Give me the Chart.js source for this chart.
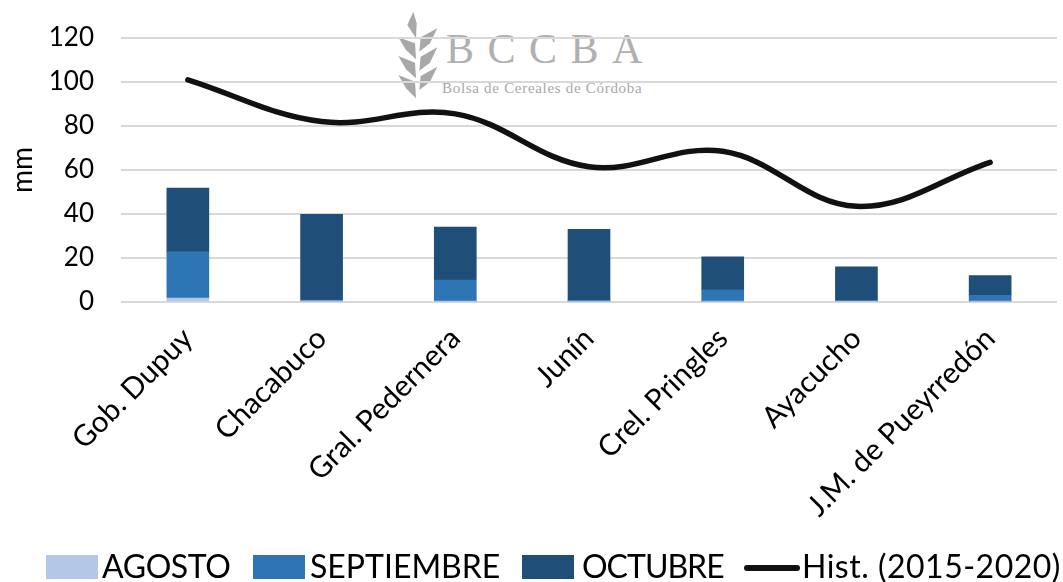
<!DOCTYPE html>
<html>
<head>
<meta charset="utf-8">
<script src="https://cdn.jsdelivr.net/npm/chart.js@4"></script>
<style>
  html, body { margin: 0; background: #fff; }
  #wrap { position: relative; width: 1063px; height: 582px; overflow: hidden; font-family: Lato, sans-serif; }
  #chart { position: absolute; left: 0; top: 0; }
  #logo { position: absolute; left: 380px; top: 0; width: 280px; height: 110px; }
  #logo .big { position: absolute; left: 66px; top: 25px; font: 42px "Liberation Serif", serif; letter-spacing: 13.5px; color: #b0b0b0; white-space: nowrap; }
  #logo .small { position: absolute; left: 62px; top: 80px; font: 15px "Liberation Serif", serif; letter-spacing: 0.7px; color: #a8a8a8; white-space: nowrap; }
  #legend { position: absolute; left: 0; top: 546px; width: 1063px; height: 36px; font-size: 32px; color: #000; }
  #legend span { position: absolute; top: 0; line-height: 40px; white-space: nowrap; }
  #legend i { position: absolute; display: block; }
</style>
</head>
<body>
<div id="wrap">
  <div id="logo">
    <svg width="280" height="110" viewBox="0 0 840 330">
      <g fill="#a8a8a8">
        <path d="M100 35 L82 75 L108 115 L110 70 Z"/>
        <path d="M55 112 L105 130 L108 178 L78 150 Z"/>
        <path d="M55 168 L105 188 L108 235 L78 208 Z"/>
        <path d="M55 225 L105 245 L108 295 L78 265 Z"/>
        <path d="M172 85 L122 112 L118 155 L150 130 Z"/>
        <path d="M172 142 L122 170 L118 212 L150 188 Z"/>
        <path d="M172 200 L122 228 L118 270 L150 245 Z"/>
      </g>
    </svg>
    <div class="big">BCCBA</div>
    <div class="small">Bolsa de Cereales de Córdoba</div>
  </div>
  <canvas id="chart" width="1063" height="582"></canvas>
  <div id="legend"></div>
</div>
<script>
const categories = ['Gob. Dupuy', 'Chacabuco', 'Gral. Pedernera', 'Junín', 'Crel. Pringles', 'Ayacucho', 'J.M. de Pueyrredón'];
const agosto = [1.8, 0.5, 0.2, 0.3, 0.3, 0.2, 0.3];
const septiembre = [21, 0.4, 9.8, 0.5, 5.2, 0.3, 2.7];
const octubre = [29, 39, 24, 32.2, 15, 15.5, 9];
const historico = [101, 82, 85.5, 61.5, 68.5, 43.5, 63.5];
const yTicks = [0, 20, 40, 60, 80, 100, 120];

const FONT = 'Lato, sans-serif';

const chart = new Chart(document.getElementById('chart'), {
  type: 'bar',
  data: {
    labels: categories,
    datasets: [
      { type: 'line', label: 'Hist. (2015-2020)', data: historico, borderColor: '#111111', borderWidth: 5.5, tension: 0.38, pointRadius: 0, borderCapStyle: 'round', order: 0 },
      { label: 'AGOSTO', data: agosto, backgroundColor: '#b4c7e7', barThickness: 42, stack: 'a', order: 1 },
      { label: 'SEPTIEMBRE', data: septiembre, backgroundColor: '#2e75b6', barThickness: 42, stack: 'a', order: 1 },
      { label: 'OCTUBRE', data: octubre, backgroundColor: '#1f4e79', barThickness: 42, stack: 'a', order: 1 },
    ],
  },
  options: {
    responsive: false,
    animation: false,
    layout: { padding: { top: 38, right: 6, left: 0, bottom: 0 } },
    plugins: { legend: { display: false }, tooltip: { enabled: false } },
    scales: {
      x: {
        stacked: true,
        grid: { display: false },
        border: { display: false },
        ticks: { maxRotation: 45, minRotation: 45, color: '#000', font: { family: FONT, size: 29.5 }, padding: 11, autoSkip: false },
        afterFit: (scale) => { scale.height = 280; },
      },
      y: {
        stacked: true,
        min: 0,
        max: 120,
        afterBuildTicks: (scale) => { scale.ticks = yTicks.map((value) => ({ value })); },
        grid: { color: '#d9d9d9', lineWidth: 2, drawTicks: false },
        border: { display: false },
        ticks: { color: '#000', font: { family: FONT, size: 26 }, padding: 27 },
        title: { display: true, text: 'mm', color: '#000', font: { family: FONT, size: 28 }, padding: { top: 6, bottom: 0 } },
        afterFit: (scale) => { scale.width = 121; scale.paddingTop = 0; scale.paddingBottom = 0; },
      },
    },
  },
});

// Legend laid out by hand because the reference puts the text tight against the swatches
const legendSlots = {
  'AGOSTO': { box: 46, text: 102, spacing: -0.4 },
  'SEPTIEMBRE': { box: 253, text: 310, spacing: 0 },
  'OCTUBRE': { box: 522, text: 582, spacing: -1 },
  'Hist. (2015-2020)': { box: 744, text: 802, spacing: 0.5 },
};
const legend = document.getElementById('legend');
Object.keys(legendSlots).forEach((name) => {
  const ds = chart.data.datasets.find((d) => d.label === name);
  const slot = legendSlots[name];
  const box = document.createElement('i');
  if (ds.type === 'line') {
    box.style.cssText = `left:${slot.box}px;top:19px;width:56px;height:6px;border-radius:3px;background:${ds.borderColor}`;
  } else {
    box.style.cssText = `left:${slot.box}px;top:9px;width:52px;height:24px;background:${ds.backgroundColor}`;
  }
  const text = document.createElement('span');
  text.style.left = slot.text + 'px';
  text.style.letterSpacing = slot.spacing + 'px';
  text.textContent = name;
  legend.append(box, text);
});
</script>
</body>
</html>
